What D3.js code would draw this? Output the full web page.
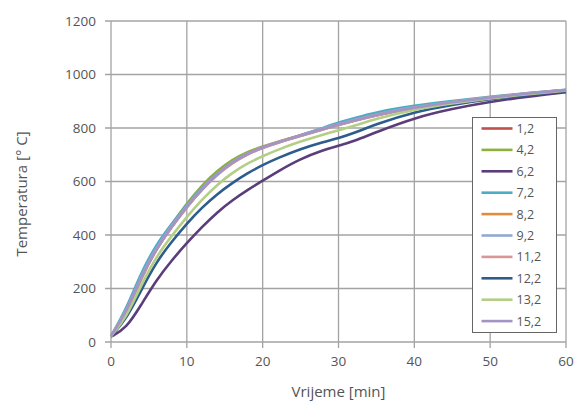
<!DOCTYPE html>
<html>
<head>
<meta charset="utf-8">
<script src="https://cdn.jsdelivr.net/npm/d3@7"></script>
<style>
  body { margin: 0; background: #fff; }
  svg { display: block; font-family: "Open Sans", "Noto Sans", sans-serif; }
  .tick-label { fill: #555; font-size: 13.5px; }
  .axis-title { fill: #555; font-size: 15px; }
  .legend-label { fill: #555; font-size: 12.5px; }
</style>
</head>
<body>
<div id="chart"></div>
<script>
// time axis (min)
const time = [0, 2, 4, 6, 8, 10, 12, 14, 16, 18, 20, 22, 25, 28, 30, 32, 35, 40, 45, 50, 55, 60];

// temperature readings per series (°C)
const s1_2  = [22, 109, 244, 349, 431, 506, 571, 627, 671, 703, 727, 746, 771, 796, 812, 827, 849, 876, 896, 913, 928, 941];
const s4_2  = [22, 104, 240, 352, 440, 518, 586, 640, 682, 711, 731, 748, 772, 797, 813, 828, 850, 876, 896, 913, 928, 941];
const s6_2  = [20, 50, 140, 232, 305, 370, 430, 485, 530, 568, 603, 638, 685, 718, 733, 750, 785, 838, 872, 898, 918, 934];
const s7_2  = [22, 122, 262, 366, 442, 513, 577, 631, 674, 705, 728, 747, 773, 801, 820, 836, 860, 884, 901, 917, 931, 943];
const s8_2  = [22, 111, 247, 352, 433, 508, 573, 629, 673, 705, 729, 748, 773, 798, 814, 829, 851, 878, 898, 915, 930, 942];
const s9_2  = [22, 112, 250, 355, 436, 510, 575, 630, 674, 705, 728, 747, 773, 799, 815, 830, 852, 878, 898, 915, 930, 942];
const s11_2 = [22, 108, 242, 348, 430, 505, 570, 626, 670, 702, 726, 745, 770, 795, 811, 826, 848, 876, 896, 913, 928, 941];
const s12_2 = [22, 85, 195, 300, 375, 443, 503, 553, 595, 631, 662, 688, 722, 748, 762, 780, 815, 860, 887, 908, 924, 938];
const s13_2 = [22, 90, 215, 320, 397, 468, 533, 588, 633, 668, 695, 719, 750, 776, 791, 807, 835, 869, 892, 911, 927, 940];
const s15_2 = [22, 110, 245, 350, 432, 507, 572, 628, 672, 704, 728, 747, 772, 797, 813, 828, 850, 877, 897, 914, 929, 942];

const seriesNames = ['1,2', '4,2', '6,2', '7,2', '8,2', '9,2', '11,2', '12,2', '13,2', '15,2'];
const seriesValues = [s1_2, s4_2, s6_2, s7_2, s8_2, s9_2, s11_2, s12_2, s13_2, s15_2];
const seriesColors = ['#c0504d', '#8fb03e', '#5a3d7a', '#4bacc6', '#e38a3d', '#93a9d3', '#d99694', '#2e5c8c', '#b3cf86', '#a394c6'];

const xTicks = [0, 10, 20, 30, 40, 50, 60];
const yTicks = [0, 200, 400, 600, 800, 1000, 1200];

const width = 575, height = 404;
const margin = {top: 21, right: 9, bottom: 62, left: 111};

const svg = d3.select('#chart').append('svg')
    .attr('width', width)
    .attr('height', height);

const x = d3.scaleLinear().domain([0, 60]).range([margin.left, width - margin.right]);
const y = d3.scaleLinear().domain([0, 1200]).range([height - margin.bottom, margin.top]);

// grid + outside ticks
const grid = svg.append('g').attr('stroke', '#a3a3a3').attr('stroke-width', 1.3);
grid.selectAll('.vgrid')
    .data(xTicks)
  .join('line')
    .attr('x1', d => x(d)).attr('x2', d => x(d))
    .attr('y1', y(1200)).attr('y2', y(0) + 6);
grid.selectAll('.hgrid')
    .data(yTicks)
  .join('line')
    .attr('y1', d => y(d)).attr('y2', d => y(d))
    .attr('x1', x(0) - 6).attr('x2', x(60));

// tick labels
svg.append('g').selectAll('text')
    .data(xTicks)
  .join('text')
    .attr('class', 'tick-label')
    .attr('x', d => x(d))
    .attr('y', y(0) + 24)
    .attr('text-anchor', 'middle')
    .text(d => d);

svg.append('g').selectAll('text')
    .data(yTicks)
  .join('text')
    .attr('class', 'tick-label')
    .attr('x', x(0) - 15)
    .attr('y', d => y(d))
    .attr('dy', '0.35em')
    .attr('text-anchor', 'end')
    .text(d => d);

// axis titles
svg.append('text')
    .attr('class', 'axis-title')
    .attr('x', (x(0) + x(60)) / 2)
    .attr('y', 397)
    .attr('text-anchor', 'middle')
    .text('Vrijeme [min]');

svg.append('text')
    .attr('class', 'axis-title')
    .attr('transform', 'translate(27,194) rotate(-90)')
    .attr('text-anchor', 'middle')
    .text('Temperatura [° C]');

// curves (smoothed through the read points)
const line = d3.line()
    .x((d, i) => x(time[i]))
    .y(d => y(d))
    .curve(d3.curveBasis);

svg.append('g').selectAll('path')
    .data(seriesValues)
  .join('path')
    .attr('fill', 'none')
    .attr('stroke', (d, i) => seriesColors[i])
    .attr('stroke-width', 2.6)
    .attr('stroke-linejoin', 'round')
    .attr('d', line);

// legend
const legend = svg.append('g').attr('transform', 'translate(472.5,117.5)');
legend.append('rect')
    .attr('width', 84)
    .attr('height', 215)
    .attr('fill', '#fff')
    .attr('stroke', '#666')
    .attr('stroke-width', 1);

const item = legend.selectAll('.legend-item')
    .data(seriesNames)
  .join('g')
    .attr('class', 'legend-item')
    .attr('transform', (d, i) => `translate(0,${11 + i * 21.4})`);

item.append('line')
    .attr('x1', 9).attr('x2', 40)
    .attr('stroke', (d, i) => seriesColors[i])
    .attr('stroke-width', 2.6);

item.append('text')
    .attr('class', 'legend-label')
    .attr('x', 44)
    .attr('dy', '0.36em')
    .text(d => d);
</script>
</body>
</html>
